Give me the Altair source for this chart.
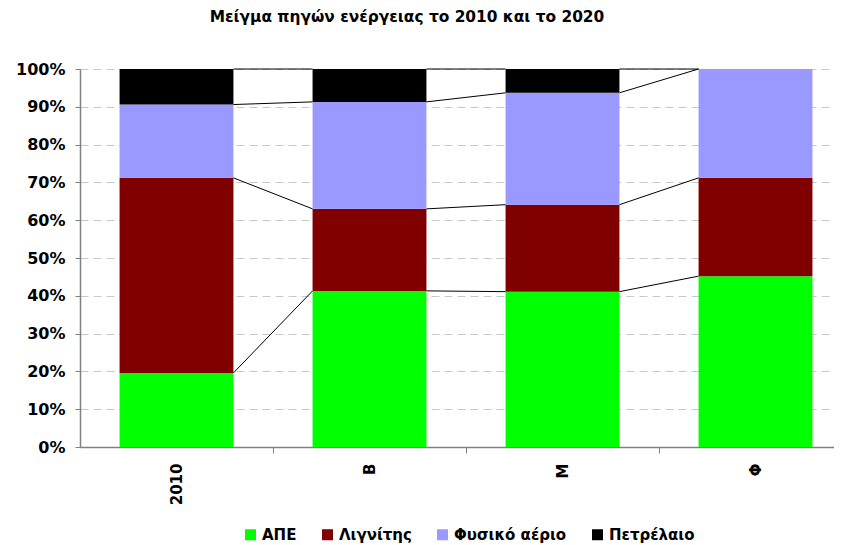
import altair as alt
import pandas as pd

# ---- data ----
categories = ["2010", "Β", "Μ", "Φ"]
sources = ["ΑΠΕ", "Λιγνίτης", "Φυσικό αέριο", "Πετρέλαιο"]
ape = [19.6, 41.3, 41.1, 45.2]
lignite = [51.6, 21.7, 23.0, 26.0]
gas = [19.4, 28.3, 29.6, 28.8]
oil = [9.4, 8.7, 6.3, 0.0]
colors = ["#00ff00", "#800000", "#9999ff", "#000000"]
title_text = "Μείγμα πηγών ενέργειας το 2010 και το 2020"

series = [ape, lignite, gas, oil]
HALF = 0.295  # half bar width, in category units
STEP_PX = 193
PLOT_W = 754
PLOT_H = 378

rows = []
for i, cat in enumerate(categories):
    total = sum(s[i] for s in series)
    cum = 0.0
    for k, src in enumerate(sources):
        v = series[k][i]
        rows.append(dict(cat=cat, idx=i, source=src, order=k,
                         y0=cum / total, y1=(cum + v) / total))
        cum += v
bars = pd.DataFrame(rows)

segs = []
for k in range(len(sources)):
    for i in range(len(categories) - 1):
        a = bars[(bars.idx == i) & (bars.order == k)].y1.iloc[0]
        b = bars[(bars.idx == i + 1) & (bars.order == k)].y1.iloc[0]
        segs.append(dict(i=i, k=k, ya=a, yb=b))
lines = pd.DataFrame(segs)

xdom = [0, PLOT_W / STEP_PX]
xscale = alt.Scale(domain=xdom, nice=False, zero=False)
yscale = alt.Scale(domain=[0, 1], nice=False)

cat_js = "[" + ",".join("'" + c + "'" for c in categories) + "]"
tick_vals = []
for i in range(len(categories)):
    tick_vals.append(i + 0.5)
    if i < len(categories) - 1:
        tick_vals.append(i + 1)

xaxis = alt.Axis(
    values=tick_vals,
    labelExpr="datum.value % 1 == 0 ? '' : " + cat_js + "[floor(datum.value)]",
    tickOpacity={"condition": {"test": "datum.value % 1 != 0", "value": 0}, "value": 1},
    labelAngle=270, labelAlign="right", labelBaseline="middle",
    labelFont="DejaVu Sans", labelFontSize=15, labelFontWeight="bold", labelColor="#000000",
    labelPadding=10, tickSize=6, tickColor="#808080", domainColor="#808080",
    domainWidth=1.5, grid=False, title=None, labelOverlap=False,
)
yaxis = alt.Axis(
    values=[round(i / 10, 1) for i in range(11)], format=".0%",
    labelFont="DejaVu Sans", labelFontSize=16, labelFontWeight="bold", labelColor="#000000",
    labelPadding=10, tickSize=5, tickColor="#808080", domainColor="#808080",
    domainWidth=1.5, grid=True, gridColor="#c8c8c8", gridDash=[8, 5], title=None,
    labelOverlap=False,
)

bar_layer = alt.Chart(bars).transform_calculate(
    xa="datum.idx + 0.5 - " + str(HALF),
    xb="datum.idx + 0.5 + " + str(HALF),
).mark_rect().encode(
    x=alt.X("xa:Q", scale=xscale, axis=xaxis),
    x2="xb:Q",
    y=alt.Y("y0:Q", scale=yscale, axis=yaxis),
    y2="y1:Q",
    color=alt.Color("source:N", scale=alt.Scale(domain=sources, range=colors),
                    legend=alt.Legend(
                        title=None, orient="none", legendX=163, legendY=458,
                        direction="horizontal", symbolType="square", symbolSize=121,
                        symbolStrokeWidth=0, symbolOpacity=1,
                        labelFont="DejaVu Sans", labelFontSize=15,
                        labelFontWeight="bold", labelColor="#000000",
                        labelOffset=4, columnPadding=23, labelLimit=300,
                    )),
    order=alt.Order("order:Q"),
)

line_layer = alt.Chart(lines).transform_calculate(
    xa="datum.i + 0.5 + " + str(HALF),
    xb="datum.i + 1.5 - " + str(HALF),
).mark_rule(color="#000000", strokeWidth=1).encode(
    x=alt.X("xa:Q", scale=xscale, axis=xaxis),
    x2="xb:Q",
    y=alt.Y("ya:Q", scale=yscale, axis=yaxis),
    y2="yb:Q",
)

chart = alt.layer(bar_layer, line_layer).properties(
    width=PLOT_W, height=PLOT_H,
    title=alt.TitleParams(title_text, font="DejaVu Sans", fontSize=15.4,
                          fontWeight="bold", color="#000000", anchor="middle",
                          dx=-50, offset=36),
    autosize=alt.AutoSizeParams(type="none"),
    padding={"left": 72, "top": 61, "right": 0, "bottom": 98},
).configure_view(stroke=None)

chart.save("out.html", embed_options={"renderer": "svg", "actions": False})
